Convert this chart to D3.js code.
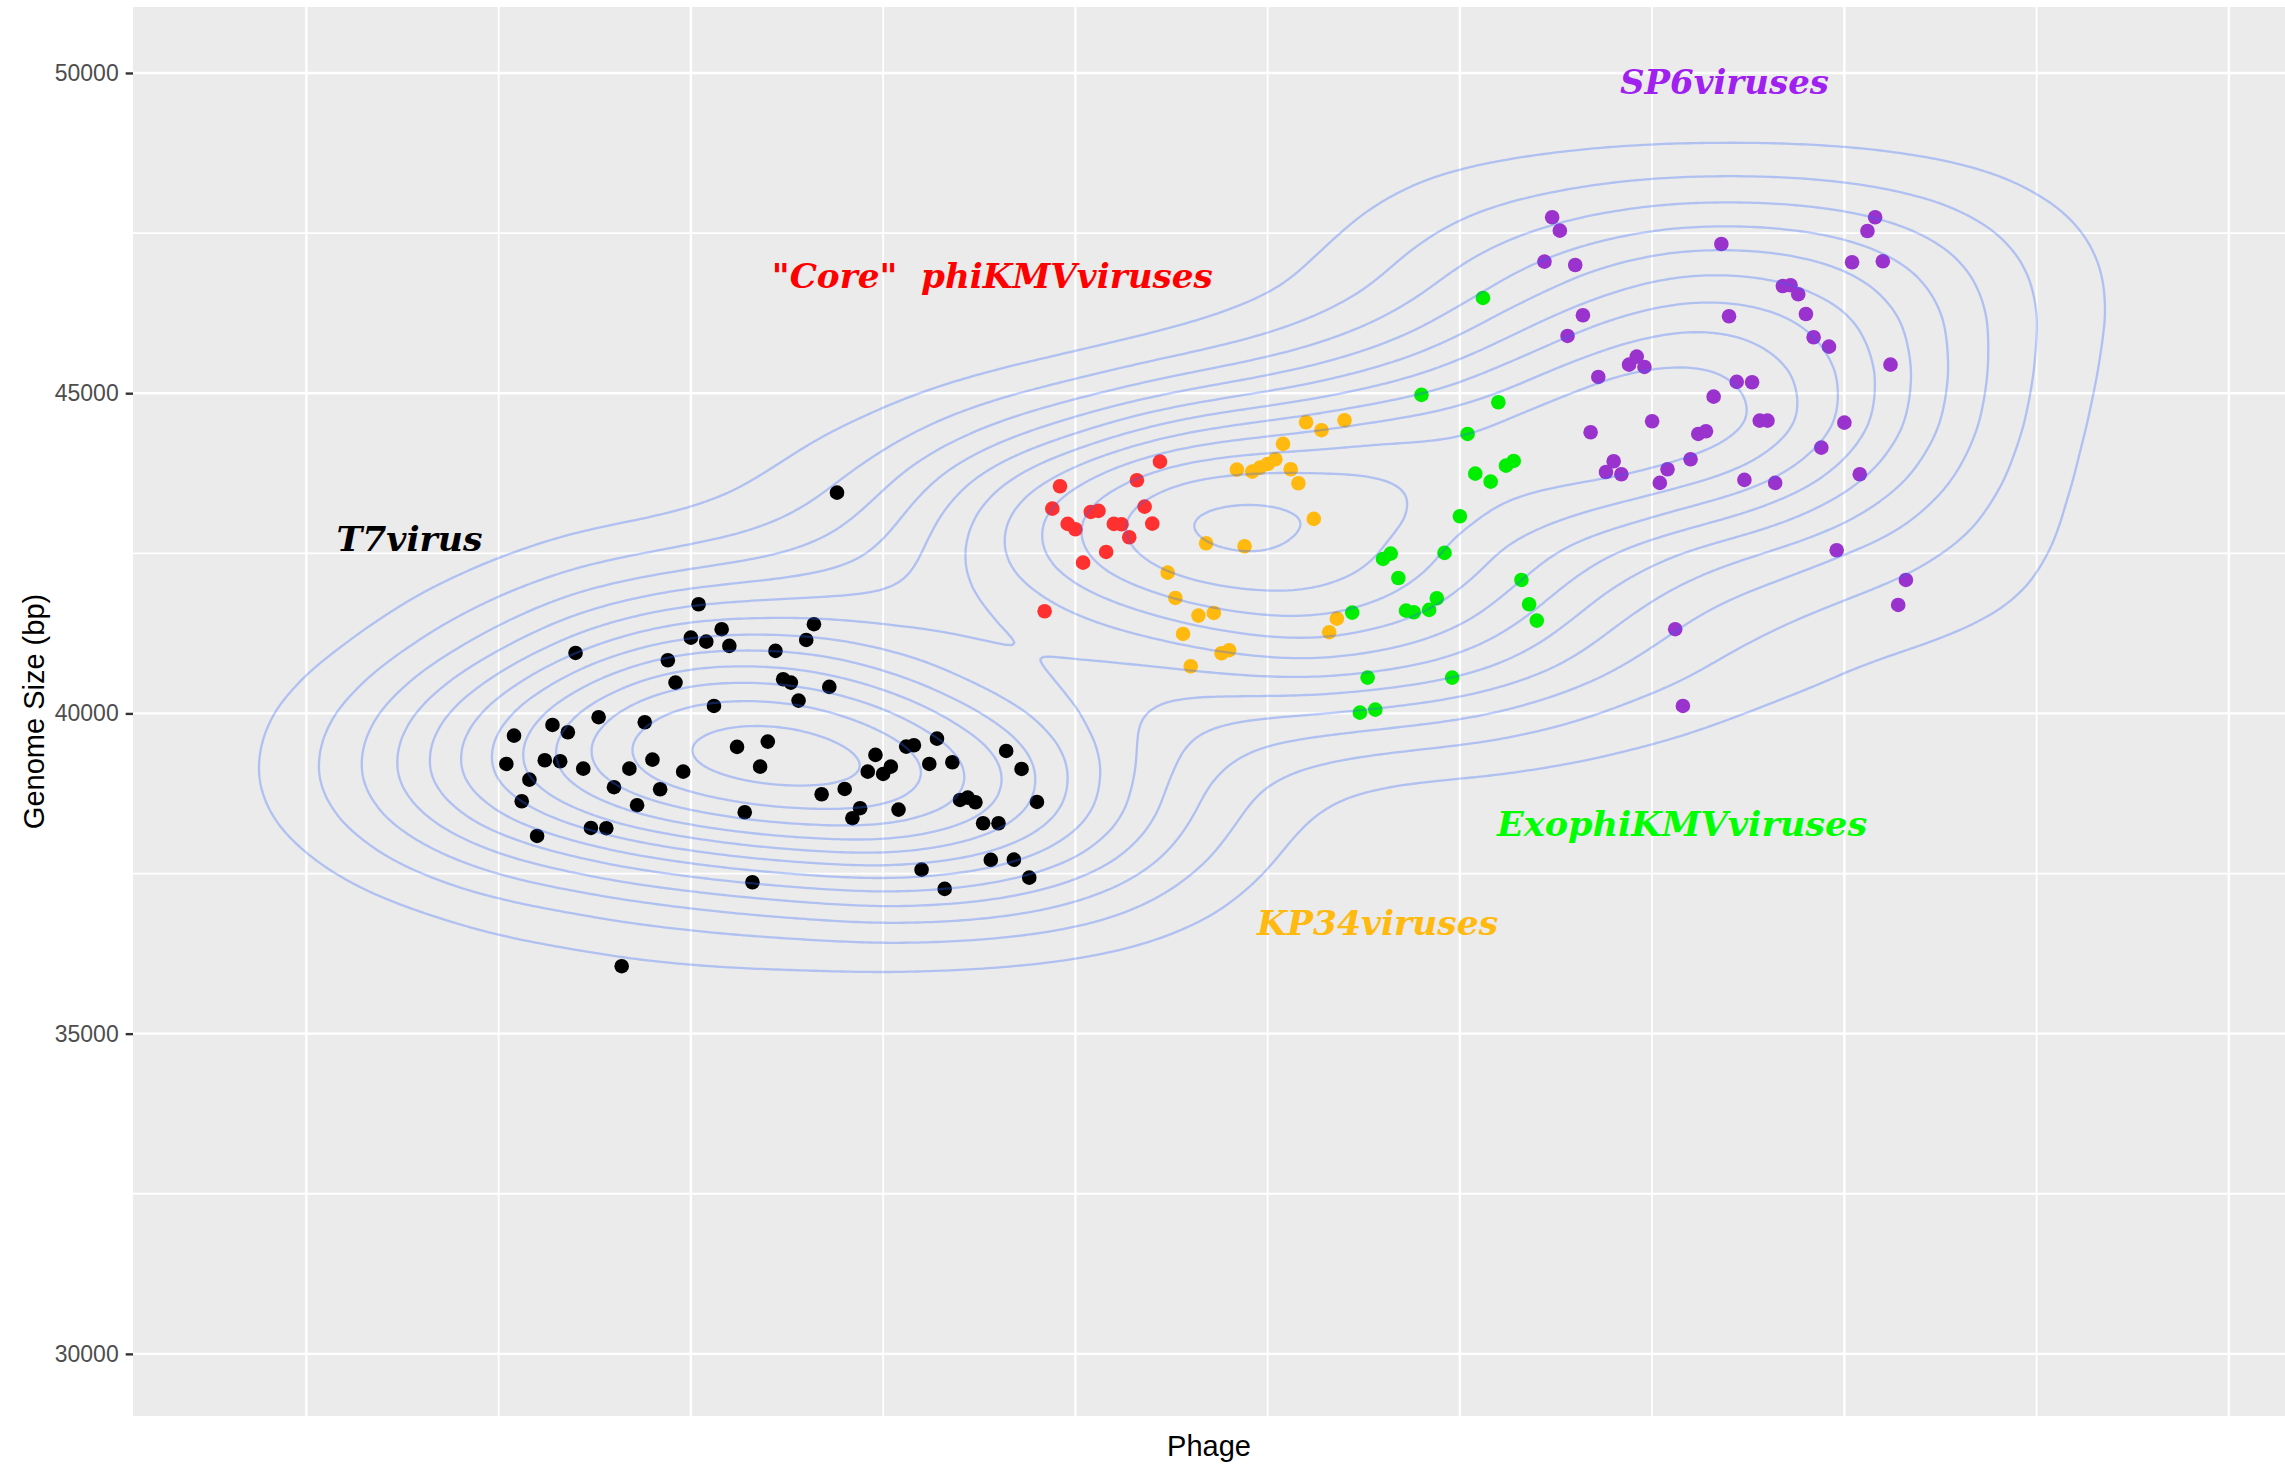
<!DOCTYPE html>
<html>
<head>
<meta charset="utf-8">
<script src="https://cdn.jsdelivr.net/npm/d3@7"></script>
<style>
  html, body { margin: 0; padding: 0; background: #ffffff; }
  svg { display: block; }
</style>
</head>
<body>
<svg id="chart" width="2285" height="1467"></svg>
<script>
// [phage number, genome size (bp)] for each genus
const t7virus = [
  [26, 39211], [27, 39653], [28, 38629], [29, 38966], [30, 38087], [31, 39269], [32, 39820],
  [33, 39253], [34, 39706], [35, 40944], [36, 39138], [37, 38212], [38, 39941], [39, 38208],
  [40, 38848], [41, 36053], [42, 39138], [43, 38567], [44, 39862], [45, 39279], [46, 38816],
  [47, 40830], [48, 40481], [49, 39091], [50, 41183], [51, 41705], [52, 41121], [53, 40117],
  [54, 41315], [55, 41054], [56, 39477], [57, 38457], [58, 37364], [59, 39169], [60, 39560],
  [61, 40976], [62, 40534], [63, 40481], [64, 40200], [65, 41147], [66, 41393], [67, 38738],
  [68, 40414], [69, 43447], [70, 38821], [71, 38364], [72, 38520], [73, 39091], [74, 39352],
  [75, 39055], [76, 39169], [77, 38498], [78, 39482], [79, 39503], [80, 37561], [81, 39211],
  [82, 39606], [83, 37260], [84, 39238], [85, 38649], [86, 38685], [87, 38613], [88, 38285],
  [89, 37713], [90, 38285], [91, 39414], [92, 37717], [93, 39133], [94, 37436], [95, 38618]
];
const corePhiKMVviruses = [
  [96, 41595], [97, 43197], [98, 43547], [99, 42959], [100, 42876], [101, 42354], [102, 43146],
  [103, 43162], [104, 42521], [105, 42959], [106, 42954], [107, 42751], [108, 43641], [109, 43229],
  [110, 42963], [111, 43931]
];
const kp34viruses = [
  [112, 42198], [113, 41803], [114, 41241], [115, 40737], [116, 41527], [117, 42657], [118, 41569],
  [119, 40940], [120, 40987], [121, 43806], [122, 42610], [123, 43775], [124, 43838], [125, 43895],
  [126, 43969], [127, 44208], [128, 43813], [129, 43594], [130, 44546], [131, 43037], [132, 44422],
  [133, 41268], [134, 41480], [135, 44578]
];
const exoPhiKMVviruses = [
  [136, 41574], [137, 40012], [138, 40559], [139, 40059], [140, 42412], [141, 42495], [142, 42115],
  [143, 41605], [144, 41580], [145, 44973], [146, 41616], [147, 41798], [148, 42506], [149, 40559],
  [150, 43079], [151, 44364], [152, 43744], [153, 46487], [154, 43619], [155, 44859], [156, 43869],
  [157, 43942], [158, 42084], [159, 41705], [160, 41449]
];
const sp6viruses = [
  [161, 47054], [162, 47747], [163, 47538], [164, 45894], [165, 47002], [166, 46217], [167, 44390],
  [168, 45254], [169, 43770], [170, 43937], [171, 43734], [172, 45446], [173, 45571], [174, 45410],
  [175, 44562], [176, 43599], [177, 43813], [178, 41315], [179, 40117], [180, 43969], [181, 44364],
  [182, 44406], [183, 44946], [184, 47330], [185, 46201], [186, 45176], [187, 43646], [188, 45171],
  [189, 44571], [190, 44571], [191, 43599], [192, 46674], [193, 46685], [194, 46545], [195, 46237],
  [196, 45873], [197, 44150], [198, 45727], [199, 42548], [200, 44540], [201, 47044], [202, 43734],
  [203, 47533], [204, 47747], [205, 47060], [206, 45446], [207, 41694], [208, 42084]
];

// axis breaks
const yBreaks = [30000, 35000, 40000, 45000, 50000];
const yMinorBreaks = [32500, 37500, 42500, 47500];
const xBreaks = [0, 25, 50, 75, 100, 125, 150, 175, 200, 225, 250];

// genus annotations: text, phage, genome size at text baseline
const annotationText = ['T7virus', '"Core"  phiKMVviruses', 'SP6viruses', 'ExophiKMVviruses', 'KP34viruses'];
const annotationPhage = [13.4, 89.2, 184.4, 178.9, 139.3];
const annotationSize = [42537, 46643, 49667, 38087, 36542];

// ---------------------------------------------------------------------------
const groups = [
  { rows: t7virus,           color: '#000000' },
  { rows: corePhiKMVviruses, color: '#ff3030' },
  { rows: kp34viruses,       color: '#ffb90f' },
  { rows: exoPhiKMVviruses,  color: '#00ee00' },
  { rows: sp6viruses,        color: '#9a32cd' }
];
const labelStyle = [
  { color: '#000000', width: 146 },
  { color: '#ff0000', width: 441 },
  { color: '#a020f0', width: 209 },
  { color: '#00ff00', width: 370 },
  { color: '#ffb90f', width: 241 }
];

const panel = { left: 133, right: 2285, top: 7, bottom: 1416 };
const svg = d3.select('#chart');

const x = d3.scaleLinear().domain([-22.55, 257.3]).range([panel.left, panel.right]);
const y = d3.scaleLinear().domain([29030, 51030]).range([panel.bottom, panel.top]);

svg.append('defs').append('clipPath').attr('id', 'panel-clip')
  .append('rect')
  .attr('x', panel.left).attr('y', panel.top)
  .attr('width', panel.right - panel.left).attr('height', panel.bottom - panel.top);

// panel background and grid
svg.append('rect')
  .attr('x', panel.left).attr('y', panel.top)
  .attr('width', panel.right - panel.left).attr('height', panel.bottom - panel.top)
  .attr('fill', '#ebebeb');

const grid = svg.append('g').attr('clip-path', 'url(#panel-clip)');
grid.selectAll('line.hminor').data(yMinorBreaks).join('line')
  .attr('class', 'hminor')
  .attr('x1', panel.left).attr('x2', panel.right)
  .attr('y1', d => y(d)).attr('y2', d => y(d))
  .attr('stroke', '#ffffff').attr('stroke-width', 1.8);
grid.selectAll('line.hmajor').data(yBreaks).join('line')
  .attr('class', 'hmajor')
  .attr('x1', panel.left).attr('x2', panel.right)
  .attr('y1', d => y(d)).attr('y2', d => y(d))
  .attr('stroke', '#ffffff').attr('stroke-width', 2.4);
grid.selectAll('line.v').data(xBreaks).join('line')
  .attr('class', 'v')
  .attr('x1', d => x(d)).attr('x2', d => x(d))
  .attr('y1', panel.top).attr('y2', panel.bottom)
  .attr('stroke', '#ffffff').attr('stroke-width', d => (d % 50 === 0 ? 2.4 : 1.8));

// y axis
const yAxis = d3.axisLeft(y).tickValues(yBreaks).tickSize(7.3).tickPadding(7).tickFormat(d3.format('d'));
const yAxisG = svg.append('g').attr('transform', `translate(${panel.left},0)`).call(yAxis);
yAxisG.select('.domain').remove();
yAxisG.selectAll('.tick line').attr('stroke', '#333333').attr('stroke-width', 2.4);
yAxisG.selectAll('.tick text')
  .attr('fill', '#4d4d4d')
  .style('font-family', '"Liberation Sans", Arial, Helvetica, sans-serif')
  .style('font-size', '23px');

// axis titles
svg.append('text')
  .attr('x', (panel.left + panel.right) / 2).attr('y', 1456)
  .attr('text-anchor', 'middle')
  .style('font-family', '"Liberation Sans", Arial, Helvetica, sans-serif')
  .style('font-size', '29px').attr('fill', '#000000')
  .text('Phage');
svg.append('text')
  .attr('transform', `translate(44,${(panel.top + panel.bottom) / 2}) rotate(-90)`)
  .attr('text-anchor', 'middle')
  .style('font-family', '"Liberation Sans", Arial, Helvetica, sans-serif')
  .style('font-size', '29px').attr('fill', '#000000')
  .text('Genome Size (bp)');

// points
const points = groups.flatMap(g => g.rows.map(r => ({ phage: r[0], size: r[1], color: g.color })));
const plot = svg.append('g').attr('clip-path', 'url(#panel-clip)');
plot.append('g').selectAll('circle').data(points).join('circle')
  .attr('cx', d => x(d.phage))
  .attr('cy', d => y(d.size))
  .attr('r', 7.3)
  .attr('fill', d => d.color);

// 2D kernel density contours (normal-reference bandwidth, pretty breaks)
function bandwidthNrd(v) {
  const s = d3.sort(v);
  const iqr = (d3.quantileSorted(s, 0.75) - d3.quantileSorted(s, 0.25)) / 1.34;
  return 4 * 1.06 * Math.min(d3.deviation(v), iqr) * Math.pow(v.length, -0.2);
}
function prettyStep(range, ndiv) {
  const cell = range / ndiv;
  const U = Math.pow(10, Math.floor(Math.log10(cell)));
  let unit = U;
  const h = 1.5, h5 = 0.5 + 1.5 * h;
  if (2 * U - cell < h * (cell - unit)) {
    unit = 2 * U;
    if (5 * U - cell < h5 * (cell - unit)) {
      unit = 5 * U;
      if (10 * U - cell < h * (cell - unit)) unit = 10 * U;
    }
  }
  return unit;
}

const n = points.length;
const hx = bandwidthNrd(points.map(d => d.phage)) / 4;
const hy = bandwidthNrd(points.map(d => d.size)) / 4;
const pxPerX = x(1) - x(0);
const pxPerY = y(0) - y(1);
const sdX = hx * pxPerX, sdY = hy * pxPerY;
const squeeze = sdY / sdX;               // makes the kernel isotropic in the working space
const workW = Math.ceil((panel.right - panel.left) * squeeze);
const workH = panel.bottom - panel.top;

const density = d3.contourDensity()
  .x(d => (x(d.phage) - panel.left) * squeeze)
  .y(d => y(d.size) - panel.top)
  .size([workW, workH])
  .cellSize(2)
  .bandwidth(sdY);

// density in working-space units -> density per (phage x bp)
const toDataDensity = (pxPerX * squeeze * pxPerY) / n;

let contourAt, maxD;
if (typeof density.contours === 'function') {
  contourAt = density.contours(points);
  maxD = contourAt.max;
} else {
  const probe = density.thresholds(200)(points);
  maxD = probe[probe.length - 1].value * 1.02;
  contourAt = null;
}
const maxData = maxD * toDataDensity;
const step = prettyStep(maxData, 10);
const levels = d3.range(step, maxData, step).map(v => v / toDataDensity);

let contours;
if (contourAt) {
  contours = levels.map(v => contourAt(v));
} else {
  contours = density.thresholds(levels)(points);
}

const unsqueeze = d3.geoTransform({
  point(px, py) { this.stream.point(panel.left + px / squeeze, panel.top + py); }
});
plot.append('g').selectAll('path').data(contours).join('path')
  .attr('d', d3.geoPath(unsqueeze))
  .attr('fill', 'none')
  .attr('stroke', '#3366ff')
  .attr('stroke-opacity', 0.32)
  .attr('stroke-width', 2.3)
  .attr('stroke-linejoin', 'round');

// genus annotations
svg.append('g').selectAll('text').data(annotationText).join('text')
  .attr('x', (d, i) => x(annotationPhage[i]))
  .attr('y', (d, i) => y(annotationSize[i]))
  .attr('text-anchor', 'middle')
  .attr('textLength', (d, i) => labelStyle[i].width)
  .attr('lengthAdjust', 'spacingAndGlyphs')
  .style('white-space', 'pre')
  .style('font-family', '"DejaVu Serif", "Liberation Serif", serif')
  .style('font-weight', 'bold')
  .style('font-style', 'italic')
  .style('font-size', '34px')
  .attr('fill', (d, i) => labelStyle[i].color)
  .text(d => d);
</script>
</body>
</html>
